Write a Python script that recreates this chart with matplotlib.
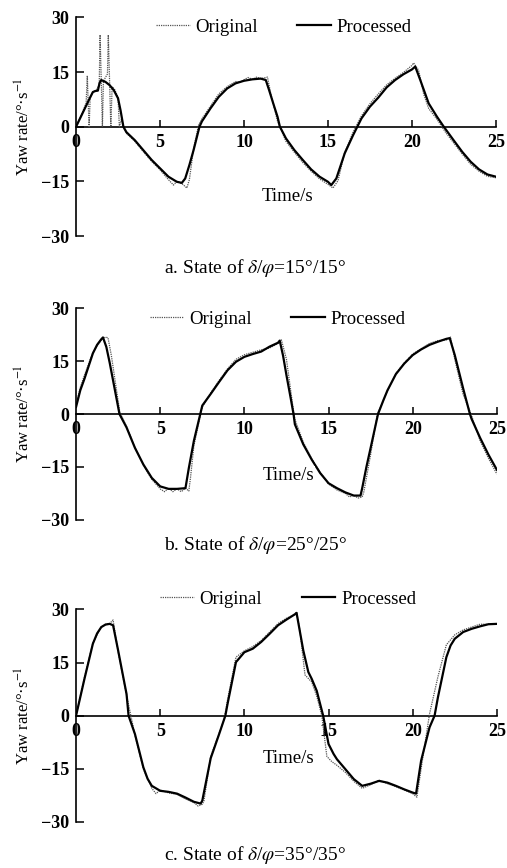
import matplotlib
matplotlib.use("Agg")
import matplotlib.pyplot as plt

# Panel a: delta/phi = 15/15
t_proc_a = [0, 0.25, 0.5, 0.75, 1.0, 1.15, 1.3, 1.4, 1.5, 1.75, 2.0, 2.25, 2.5, 2.65, 2.82, 3.0, 3.5,
            4.0, 4.5, 5.0, 5.5, 6.0, 6.3, 6.5, 6.75, 7.0, 7.35, 7.5, 8.0, 8.5, 9.0, 9.5, 10.0, 10.5,
            11.0, 11.3, 11.5, 11.75, 12.0, 12.14, 12.5, 13.0, 13.5, 14.0, 14.5, 15.0, 15.2, 15.5,
            16.0, 16.5, 16.75, 17.0, 17.5, 18.0, 18.5, 19.0, 19.5, 20.0, 20.2, 20.5, 21.0, 21.5,
            21.9, 22.5, 23.0, 23.5, 24.0, 24.5, 25.0]
y_proc_a = [0, 2.4, 4.8, 7.2, 9.5, 9.8, 9.9, 12.0, 12.8, 12.3, 11.4, 10.0, 7.8, 4.5, 0, -1.5, -3.7,
            -6.4, -9.1, -11.4, -13.7, -15.1, -15.4, -14.2, -10.5, -6.4, 0, 1.5, 5.0, 8.2, 10.5, 11.9, 12.6, 13.0,
            13.2, 12.8, 10.0, 6.3, 2.7, 0, -3.2, -6.4, -9.1, -11.7, -13.7, -15.1, -16.0, -14.2,
            -7.3, -2.3, 0, 2.3, 5.5, 8.0, 10.8, 12.8, 14.4, 15.7, 16.5, 12.8, 6.4, 2.7,
            0, -3.8, -6.9, -9.6, -11.7, -13.1, -13.7]
t_orig_a = [0, 0.3, 0.6, 0.67, 0.72, 0.78, 0.84, 1.0, 1.2, 1.38, 1.43, 1.5, 1.57, 1.63, 1.75, 1.87,
            1.92, 2.0, 2.07, 2.15, 2.3, 2.5, 2.58, 2.7, 2.85, 3.0, 3.5, 4.0, 4.5, 5.0, 5.5, 5.8,
            6.0, 6.3, 6.6, 6.75, 7.0, 7.3, 7.5, 8.0, 8.5, 9.0, 9.5, 9.75, 10.0, 10.25, 10.5, 10.75,
            11.0, 11.4, 11.6, 12.0, 12.5, 13.0, 13.5, 14.0, 14.5, 15.0, 15.3, 15.6, 16.0, 16.5,
            17.0, 17.5, 18.0, 18.5, 19.0, 19.5, 20.0, 20.1, 20.4, 20.7, 21.0, 21.5, 22.0, 22.5,
            23.0, 23.5, 24.0, 24.5, 25.0]
y_orig_a = [0, 3.0, 6.5, 14.0, 7.0, 0, 8.0, 9.6, 10.0, 11.5, 25.2, 13.0, 0, 12.5, 13.5, 14.5,
            25.2, 12.0, 0, 11.0, 10.2, 8.0, 0, 2.0, -0.5, -1.8, -4.0, -6.8, -9.5, -11.8, -14.5, -16.0,
            -15.0, -15.6, -16.8, -14.5, -6.0, 0.5, 2.2, 5.6, 9.0, 11.0, 12.4, 12.2, 12.9, 13.5, 13.0, 13.6,
            13.2, 13.6, 9.0, 1.5, -4.0, -7.0, -9.8, -12.2, -14.3, -15.8, -16.8, -14.8, -7.0, -1.5,
            3.0, 6.3, 9.0, 11.5, 13.3, 14.9, 16.8, 17.5, 15.5, 9.0, 5.0, 2.0, -1.5, -4.5,
            -7.5, -10.3, -12.2, -13.6, -14.0]

# Panel b: delta/phi = 25/25
t_proc_b = [0, 0.25, 0.5, 1.0, 1.25, 1.5, 1.6, 1.8, 2.0, 2.3, 2.58, 3.0, 3.5, 4.0, 4.5, 5.0, 5.5,
            6.0, 6.5, 6.7, 7.0, 7.38, 7.5, 8.0, 8.5, 9.0, 9.5, 10.0, 10.5, 11.0, 11.5, 12.0, 12.1,
            12.3, 12.5, 12.74, 12.92, 13.0, 13.5, 14.0, 14.5, 15.0, 15.5, 16.0, 16.5, 16.9, 17.0,
            17.25, 17.5, 17.94, 18.25, 18.5, 19.0, 19.5, 20.0, 20.5, 21.0, 21.5, 22.0, 22.2, 22.5,
            23.0, 23.4, 23.5, 24.0, 24.5, 25.0]
y_proc_b = [2.0, 6.7, 10.0, 17.2, 19.6, 21.2, 21.7, 19.0, 14.5, 7.0, 0, -3.8, -9.6, -14.3, -18.1, -20.5, -21.2,
            -21.2, -21.0, -15.3, -7.6, 0, 2.4, 5.7, 9.1, 12.4, 14.8, 16.2, 17.0, 17.7, 19.1, 20.2, 20.8,
            16.5, 11.0, 4.8, 0, -2.9, -8.6, -12.9, -16.7, -19.6, -21.0, -22.2, -23.1, -23.1, -21.0,
            -15.0, -9.6, 0, 3.8, 6.7, 11.3, 14.3, 16.7, 18.3, 19.6, 20.5, 21.3, 21.5, 16.7,
            7.2, 0, -1.4, -6.7, -11.5, -15.8]
t_orig_b = [0, 0.25, 0.5, 1.0, 1.5, 1.75, 1.9, 2.1, 2.6, 3.0, 3.5, 4.0, 4.5, 5.0, 5.25, 5.5, 5.75,
            6.0, 6.25, 6.5, 6.7, 6.8, 7.0, 7.4, 7.5, 8.0, 8.5, 9.0, 9.5, 10.0, 10.5, 11.0, 11.5,
            12.0, 12.2, 12.5, 12.9, 13.0, 13.5, 14.0, 14.5, 15.0, 15.5, 16.0, 16.25, 16.5, 16.75,
            17.0, 17.1, 17.5, 17.9, 18.5, 19.0, 19.5, 20.0, 20.5, 21.0, 21.5, 22.0, 22.25, 22.5,
            23.0, 23.3, 23.5, 24.0, 24.5, 25.0]
y_orig_b = [2.5, 7.5, 11.0, 17.5, 21.0, 21.8, 21.6, 16.5, 0.5, -3.5, -9.5, -14.5, -18.5, -21.2, -22.0, -21.0, -22.0,
            -21.2, -22.0, -21.0, -21.8, -18.0, -9.0, 0, 2.0, 6.0, 9.5, 12.8, 15.5, 16.8, 17.5, 18.2, 18.7,
            20.0, 21.0, 15.5, 1.5, -1.5, -8.0, -12.7, -16.5, -19.8, -21.5, -22.5, -23.5, -23.0, -23.8,
            -23.5, -22.0, -11.5, 0, 6.5, 11.5, 14.5, 17.0, 18.5, 20.0, 20.8, 21.0, 21.8, 15.5,
            5.5, 2.0, -0.5, -7.5, -12.5, -17.0]

# Panel c: delta/phi = 35/35
t_proc_c = [0, 0.5, 1.0, 1.25, 1.5, 1.75, 2.0, 2.2, 2.5, 3.0, 3.12, 3.5, 4.0, 4.25, 4.5, 5.0, 5.5,
            6.0, 6.5, 7.0, 7.4, 7.5, 8.0, 8.5, 8.87, 9.0, 9.5, 10.0, 10.5, 11.0, 11.5, 12.0, 12.5,
            13.0, 13.1, 13.5, 13.8, 14.0, 14.3, 14.68, 15.0, 15.3, 15.5, 16.0, 16.5, 17.0, 17.5,
            18.0, 18.5, 19.0, 19.5, 20.0, 20.2, 20.5, 21.0, 21.3, 21.5, 22.0, 22.25, 22.5, 23.0,
            23.5, 24.0, 24.5, 25.0]
y_proc_c = [0, 10.4, 20.3, 23.2, 25.0, 25.7, 25.9, 25.5, 18.4, 6.1, 0, -5.2, -14.6, -17.8, -19.8, -21.2, -21.5,
            -22.0, -23.1, -24.3, -24.8, -24.0, -12.0, -5.2, 0, 3.3, 15.1, 17.9, 18.9, 20.8, 23.1, 25.5, 27.1,
            28.6, 29.0, 18.4, 12.3, 10.4, 7.0, 0, -8.0, -10.8, -12.3, -15.1, -17.9, -19.8, -19.2,
            -18.4, -18.9, -19.8, -20.8, -21.7, -22.0, -12.7, -3.3, 0, 5.2, 16.5, 19.8, 21.7, 23.6,
            24.5, 25.2, 25.8, 25.9]
t_orig_c = [0, 0.5, 1.0, 1.5, 1.75, 2.0, 2.2, 2.5, 3.0, 3.5, 4.0, 4.5, 4.75, 5.0, 5.5, 6.0, 6.5,
            7.0, 7.25, 7.5, 7.6, 8.0, 8.5, 8.8, 9.0, 9.5, 10.0, 10.5, 11.0, 11.5, 12.0, 12.5, 12.75,
            13.0, 13.1, 13.3, 13.6, 13.8, 14.0, 14.3, 14.6, 14.9, 15.2, 15.5, 16.0, 16.5, 17.0,
            17.5, 18.0, 18.5, 19.0, 19.5, 20.0, 20.25, 20.5, 21.0, 21.5, 22.0, 22.5, 23.0, 23.5,
            24.0, 24.5, 25.0]
y_orig_c = [0, 10.8, 20.5, 25.0, 25.8, 26.0, 27.0, 18.0, 5.8, -5.5, -15.0, -20.5, -22.0, -21.0, -21.8, -22.2, -23.5,
            -24.5, -25.5, -25.0, -24.0, -11.5, -5.0, -1.0, 4.5, 16.5, 18.3, 19.5, 21.2, 23.6, 26.0, 27.5, 28.0,
            28.5, 29.3, 24.0, 11.5, 10.5, 9.5, 5.5, 0, -11.5, -13.0, -14.0, -16.0, -18.5, -20.5,
            -19.5, -18.2, -19.2, -20.0, -21.0, -22.0, -23.0, -15.0, 0.5, 11.0, 20.0, 22.8, 24.2, 25.0,
            25.8, 25.8, 25.9]

x_ticks = [5, 10, 15, 20, 25]
y_ticks = [-30, -15, 0, 15, 30]
captions = ["a. State of $\\delta$/$\\varphi$=15°/15°",
            "b. State of $\\delta$/$\\varphi$=25°/25°",
            "c. State of $\\delta$/$\\varphi$=35°/35°"]

plt.rcParams['font.family'] = ['Liberation Serif', 'DejaVu Serif']
plt.rcParams['mathtext.fontset'] = 'stix'

fig = plt.figure(figsize=(5.07, 8.68), dpi=100)

# axes boxes in figure fractions, and where legend / "Time/s" / caption sit
boxes = [[0.150, 0.728, 0.828, 0.252],
         [0.150, 0.401, 0.830, 0.244],
         [0.150, 0.053, 0.830, 0.245]]
legend_pos = [(0.19, 0.954), (0.175, 0.948), (0.20, 1.047)]
time_pos = [(12.6, -19.1), (12.6, -17.4), (12.6, -12.0)]
caption_y = [0.691, 0.372, 0.015]

series = [(t_orig_a, y_orig_a, t_proc_a, y_proc_a),
          (t_orig_b, y_orig_b, t_proc_b, y_proc_b),
          (t_orig_c, y_orig_c, t_proc_c, y_proc_c)]

for i, (to, yo, tp, yp) in enumerate(series):
    ax = fig.add_axes(boxes[i])
    ax.plot(to, yo, color='#555555', lw=0.9, ls=(0, (1, 0.8)), label='Original', zorder=3)
    ax.plot(tp, yp, color='black', lw=1.6, label='Processed', zorder=4)

    ax.set_xlim(0, 25)
    ax.set_ylim(-30, 30)
    ax.spines['top'].set_visible(False)
    ax.spines['right'].set_visible(False)
    ax.spines['bottom'].set_position(('data', 0))
    ax.spines['bottom'].set_zorder(2)
    for s in ('left', 'bottom'):
        ax.spines[s].set_linewidth(1.2)

    ax.set_xticks([0] + x_ticks)
    ax.set_yticks(y_ticks)
    ax.tick_params(axis='x', direction='in', length=5, width=1.1, pad=5, labelsize=13)
    ax.tick_params(axis='y', direction='in', length=6, width=1.1, pad=5, labelsize=13)
    for lab in ax.get_xticklabels() + ax.get_yticklabels():
        lab.set_fontweight('bold')
    ax.xaxis.get_major_ticks()[0].tick1line.set_visible(False)

    ax.set_ylabel('Yaw rate/°·s$^{-1}$', fontsize=12)
    ax.yaxis.set_label_coords(-0.10, 0.5)

    ax.text(time_pos[i][0], time_pos[i][1], 'Time/s', fontsize=13.5, ha='center', va='center',
            zorder=5, bbox=dict(facecolor='white', edgecolor='none', pad=0.5))

    ax.legend(loc='center left', bbox_to_anchor=legend_pos[i], ncol=2, frameon=False,
              fontsize=13.5, handlelength=1.8, handletextpad=0.3, columnspacing=2.1,
              borderpad=0, borderaxespad=0)

    fig.text(0.503, caption_y[i], captions[i], fontsize=14, ha='center', va='center')

fig.savefig('out.png', dpi=100)
